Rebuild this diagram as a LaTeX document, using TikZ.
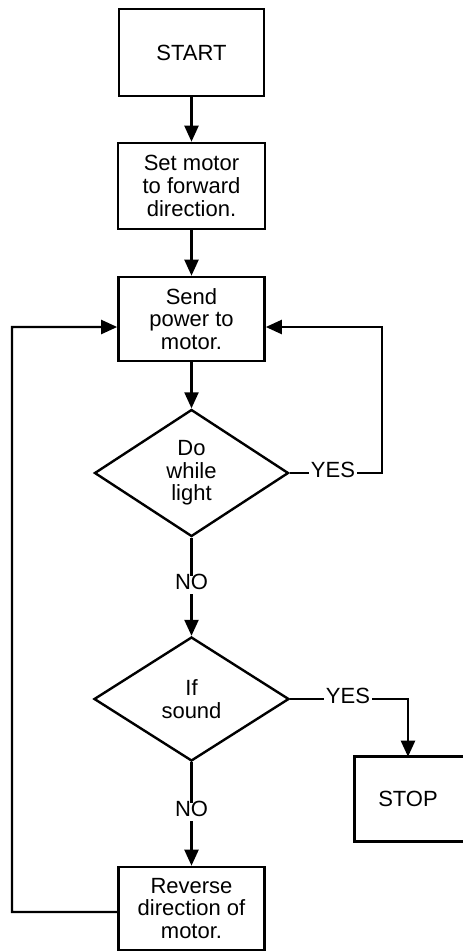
\documentclass[tikz,border=0pt]{standalone}
\usepackage{fontspec}
\setmainfont{Liberation Sans}
\usetikzlibrary{shapes.geometric,arrows.meta}
\begin{document}
\begin{tikzpicture}[x=0.75pt,y=-0.75pt,
  every node/.style={font=\fontsize{16.5}{17}\selectfont, align=center},
  box/.style={draw, line width=2pt, rectangle, inner sep=0pt},
  dia/.style={draw, line width=1.8pt, diamond, inner sep=0pt},
  lab/.style={inner xsep=1.5pt, inner ysep=3pt, text height=0.72em, text depth=0pt},
  conn/.style={line width=1.7pt},
  arr/.style={conn, -{Triangle[length=12pt,width=10.5pt]}}]
\useasboundingbox (0,0) rectangle (463,951);

\node[box, minimum width=145*0.75pt, minimum height=87*0.75pt] (start) at (191.5,52.5) {START};
\node[box, minimum width=147*0.75pt, minimum height=86*0.75pt] (setm) at (191.5,186) {Set motor\\to forward\\direction.};
\node[box, minimum width=146*0.75pt, minimum height=84*0.75pt] (send) at (191.5,319) {Send\\power to\\motor.};
\node[dia, minimum width=194*0.75pt, minimum height=127*0.75pt] (d1) at (191.5,473) {Do\\while\\light};
\node[dia, minimum width=195*0.75pt, minimum height=124*0.75pt] (d2) at (191.5,699) {If\\sound};
\node[minimum width=106*0.75pt, minimum height=84*0.75pt, inner sep=0pt] (stop) at (408,799) {STOP};
\draw[line width=2pt] (stop.north west) rectangle ([xshift=20pt]stop.south east);
\node[box, minimum width=146*0.75pt, minimum height=83*0.75pt] (rev) at (191.5,908.5) {Reverse\\direction of\\motor.};

\node[lab] (yes1) at (333,473) {YES};
\node[lab] (no1) at (191.5,585) {NO};
\node[lab] (yes2) at (348,699) {YES};
\node[lab] (no2) at (191.5,812) {NO};

\coordinate (c1) at (382,473);
\coordinate (c2) at (12,912);

\draw[arr] (start) -- (setm);
\draw[arr] (setm) -- (send);
\draw[arr] (send) -- (d1);
\draw[conn] (d1.east) -- (yes1);
\draw[arr] (yes1) -- (c1) |- ([yshift=-6pt]send.east);
\draw[conn] (d1) -- (no1);
\draw[arr] (no1) -- (d2);
\draw[conn] (d2.east) -- (yes2);
\draw[arr] (yes2) -| (stop);
\draw[conn] (d2) -- (no2);
\draw[arr] (no2) -- (rev);
\draw[arr] ([yshift=-2.6pt]rev.west) -- (c2) |- ([yshift=-6pt]send.west);
\end{tikzpicture}
\end{document}
